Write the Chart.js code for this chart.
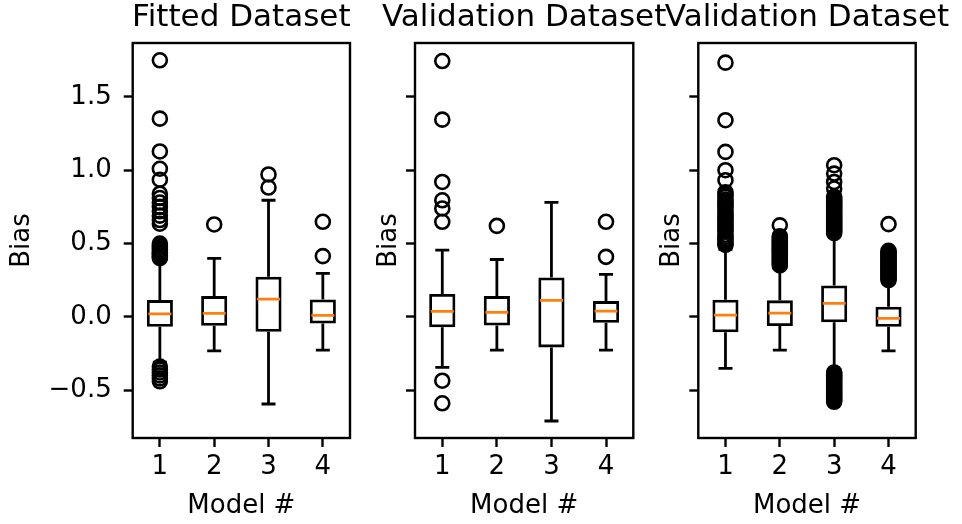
<!DOCTYPE html>
<html>
<head>
<meta charset="utf-8">
<script src="https://cdn.jsdelivr.net/npm/chart.js@4.4.1/dist/chart.umd.min.js"></script>
<style>
  html, body { margin: 0; padding: 0; background: #fff; }
  #wrap { position: relative; width: 962px; height: 524px; }
  canvas { position: absolute; left: 0; top: 0; }
</style>
</head>
<body>
<div id="wrap">
  <canvas id="c1" width="962" height="524"></canvas>
  <canvas id="c2" width="962" height="524"></canvas>
  <canvas id="c3" width="962" height="524"></canvas>
</div>
<script>
const models = [1, 2, 3, 4];
const yTicks = [-0.5, 0.0, 0.5, 1.0, 1.5];

// Fitted Dataset
const fitQ1  = [-0.068, -0.061, -0.102, -0.046];
const fitMed = [0.020, 0.023, 0.120, 0.009];
const fitQ3  = [0.114, 0.141, 0.273, 0.118];
const fitLo  = [-0.31, -0.232, -0.595, -0.227];
const fitHi  = [0.38, 0.398, 0.795, 0.296];
const fitOut = [
  [1.75, 1.352, 1.128, 1.01, 0.935, 0.84, 0.81, 0.78, 0.75, 0.72, 0.69, 0.66, 0.635,
   0.50, 0.485, 0.47, 0.455, 0.44, 0.43, 0.42, 0.41, 0.40,
   -0.34, -0.36, -0.38, -0.40, -0.42, -0.44],
  [0.63],
  [0.971, 0.882],
  [0.648, 0.414]
];

// Validation Dataset (middle)
const valQ1  = [-0.072, -0.059, -0.209, -0.041];
const valMed = [0.037, 0.030, 0.112, 0.039];
const valQ3  = [0.155, 0.141, 0.268, 0.107];
const valLo  = [-0.345, -0.227, -0.711, -0.227];
const valHi  = [0.455, 0.391, 0.78, 0.289];
const valOut = [
  [1.745, 1.345, 0.92, 0.795, 0.739, 0.648, -0.436, -0.59],
  [0.62],
  [],
  [0.648, 0.409]
];

// Validation Dataset (right)
const v2Q1  = [-0.105, -0.063, -0.038, -0.068];
const v2Med = [0.012, 0.025, 0.091, -0.011];
const v2Q3  = [0.117, 0.112, 0.214, 0.068];
const v2Lo  = [-0.352, -0.227, -0.36, -0.232];
const v2Hi  = [0.46, 0.33, 0.55, 0.23];
const v2Out = [
  [1.734, 1.341, 1.125, 1.0, 0.932, 0.85, 0.835, 0.82, 0.80, 0.785, 0.77, 0.755, 0.74,
   0.72, 0.705, 0.69, 0.675, 0.66, 0.64, 0.625, 0.61, 0.595, 0.58, 0.56, 0.545, 0.53,
   0.515, 0.50, 0.49],
  [0.624, 0.55, 0.54, 0.53, 0.52, 0.51, 0.50, 0.49, 0.48, 0.47, 0.46, 0.45, 0.44, 0.43,
   0.42, 0.41, 0.40, 0.39, 0.38, 0.37, 0.36, 0.35],
  [1.034, 0.977, 0.92, 0.875, 0.82, 0.81, 0.80, 0.79, 0.78, 0.77, 0.76, 0.75, 0.74, 0.73,
   0.72, 0.71, 0.70, 0.69, 0.68, 0.67, 0.66, 0.65, 0.64, 0.63, 0.62, 0.61, 0.60, 0.59,
   0.58, 0.57,
   -0.38, -0.39, -0.40, -0.41, -0.42, -0.43, -0.44, -0.45, -0.46, -0.47, -0.48, -0.49,
   -0.50, -0.51, -0.52, -0.53, -0.54, -0.55, -0.56, -0.57, -0.58],
  [0.632, 0.45, 0.44, 0.43, 0.42, 0.41, 0.40, 0.39, 0.38, 0.37, 0.36, 0.35, 0.34, 0.33,
   0.32, 0.31, 0.30, 0.29, 0.28, 0.27, 0.26, 0.25]
];

Chart.defaults.font.family = '"DejaVu Sans", sans-serif';
Chart.defaults.color = '#000';

// axes frame + title over the plot area, like matplotlib
const panelFrame = {
  id: 'panelFrame',
  afterDatasetsDraw(chart, args, opts) {
    const ctx = chart.ctx;
    const a = chart.chartArea;
    ctx.save();
    ctx.strokeStyle = '#000';
    ctx.lineWidth = 2.4;
    ctx.strokeRect(a.left, a.top, a.right - a.left, a.bottom - a.top);
    ctx.fillStyle = '#000';
    ctx.font = '31px "DejaVu Sans"';
    ctx.textAlign = 'center';
    ctx.textBaseline = 'alphabetic';
    ctx.fillText(opts.text, (a.left + a.right) / 2, a.top - 17);
    ctx.restore();
  }
};

function panel(id, title, q1, med, q3, lo, hi, out, showLabels, box) {
  const whisk = [];
  const caps = [];
  const meds = [];
  const fliers = [];
  models.forEach((m, i) => {
    whisk.push({x: m, y: lo[i]}, {x: m, y: q1[i]}, {x: m, y: null},
               {x: m, y: q3[i]}, {x: m, y: hi[i]}, {x: m, y: null});
    caps.push({x: m, y: lo[i]}, {x: m, y: hi[i]});
    meds.push({x: m, y: med[i]});
    for (let v of out[i]) fliers.push({x: m, y: v});
  });

  const tickGrid = {
    drawOnChartArea: false,
    drawTicks: true,
    tickLength: 9,
    tickWidth: 2.4,
    tickColor: '#000'
  };

  new Chart(document.getElementById(id), {
    type: 'bar',
    data: {
      datasets: [
        {
          type: 'bar',
          data: models.map((m, i) => ({x: m, y: [q1[i], q3[i]]})),
          backgroundColor: 'rgba(0,0,0,0)',
          borderColor: '#000',
          borderWidth: 2.8,
          borderSkipped: false,
          barPercentage: 0.48,
          categoryPercentage: 1,
          order: 3
        },
        {
          type: 'line',
          data: whisk,
          borderColor: '#000',
          borderWidth: 2.8,
          pointRadius: 0,
          spanGaps: false,
          order: 4
        },
        {
          type: 'scatter',
          data: caps,
          pointStyle: 'line',
          pointRadius: 7,
          pointBorderColor: '#000',
          pointBorderWidth: 2.8,
          order: 2
        },
        {
          type: 'scatter',
          data: meds,
          pointStyle: 'line',
          pointRadius: 11.5,
          pointBorderColor: '#ff7f0e',
          pointBorderWidth: 2.8,
          order: 1
        },
        {
          type: 'scatter',
          data: fliers,
          pointStyle: 'circle',
          pointRadius: 7,
          pointBorderColor: '#000',
          pointBackgroundColor: 'rgba(0,0,0,0)',
          pointBorderWidth: 2.6,
          order: 0
        }
      ]
    },
    options: {
      responsive: false,
      animation: false,
      events: [],
      layout: {
        padding: {left: box.padLeft, right: 962 - box.right, top: 43, bottom: 0}
      },
      plugins: {
        legend: {display: false},
        tooltip: {enabled: false},
        panelFrame: {text: title}
      },
      scales: {
        x: {
          type: 'linear',
          min: 0.5,
          max: 4.5,
          offset: false,
          afterBuildTicks: s => { s.ticks = models.map(v => ({value: v})); },
          afterFit: s => { s.height = 86; },
          ticks: {
            font: {size: 26},
            padding: 5,
            callback: v => String(v)
          },
          grid: Object.assign({offset: false}, tickGrid),
          border: {display: false},
          title: {
            display: true,
            text: 'Model #',
            font: {size: 26},
            padding: {top: 2, bottom: 2}
          }
        },
        y: {
          type: 'linear',
          min: -0.827,
          max: 1.868,
          afterBuildTicks: s => { s.ticks = yTicks.map(v => ({value: v})); },
          afterFit: s => { s.width = box.left - box.padLeft; },
          ticks: {
            display: showLabels,
            font: {size: 26},
            padding: 12,
            callback: v => v.toFixed(1).replace('-', '\u2212')
          },
          grid: tickGrid,
          border: {display: false},
          title: {
            display: true,
            text: 'Bias',
            font: {size: 26},
            padding: {top: 3, bottom: 3}
          }
        }
      }
    },
    plugins: [panelFrame]
  });
}

panel('c1', 'Fitted Dataset', fitQ1, fitMed, fitQ3, fitLo, fitHi, fitOut, true,
      {padLeft: 4, left: 132.7, right: 350});
panel('c2', 'Validation Dataset', valQ1, valMed, valQ3, valLo, valHi, valOut, false,
      {padLeft: 370.7, left: 415, right: 633.3});
panel('c3', 'Validation Dataset', v2Q1, v2Med, v2Q3, v2Lo, v2Hi, v2Out, false,
      {padLeft: 654, left: 698.3, right: 915.7});
</script>
</body>
</html>
